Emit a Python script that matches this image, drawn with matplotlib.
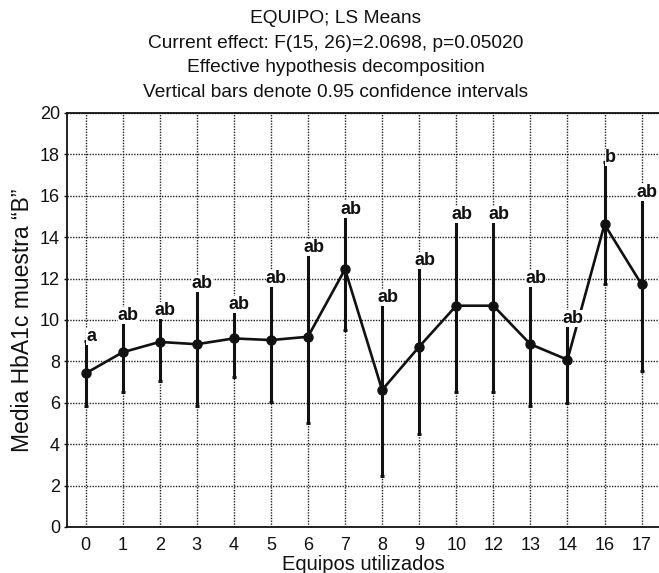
"""
EQUIPO; LS Means plot: HbA1c "B" means per equipment, with 95% CI bars
and group letters above each bar.
"""

import matplotlib
matplotlib.use("Agg")
import matplotlib.pyplot as plt

# ── Data ───────────────────────────────────────────────────────────────────
equipos = ["0", "1", "2", "3", "4", "5", "6", "7", "8", "9",
           "10", "12", "13", "14", "16", "17"]
medias = [7.42, 8.44, 8.94, 8.83, 9.11, 9.03, 9.19, 12.45,
          6.62, 8.71, 10.69, 10.69, 8.83, 8.08, 14.62, 11.72]
ci_low = [5.85, 6.54, 7.07, 5.85, 7.23, 6.05, 5.01, 9.52,
          2.48, 4.49, 6.51, 6.51, 5.85, 6.00, 11.72, 7.54]
ci_high = [9.00, 10.00, 10.25, 11.55, 10.56, 11.80, 13.30, 15.15,
           10.90, 12.66, 14.88, 14.90, 11.80, 9.85, 17.65, 15.96]
letras = ["a", "ab", "ab", "ab", "ab", "ab", "ab", "ab",
          "ab", "ab", "ab", "ab", "ab", "ab", "b", "ab"]

FONT = "Liberation Sans"
plt.rcParams["font.family"] = [FONT, "DejaVu Sans"]

fig = plt.figure(figsize=(6.59, 5.73), dpi=100)
ax = fig.add_axes([0.1017, 0.0803, 0.9, 0.7225])

x = list(range(len(equipos)))
err_lo = [m - lo for m, lo in zip(medias, ci_low)]
err_hi = [hi - m for m, hi in zip(medias, ci_high)]

# ── Confidence interval bars + mean line ──────────────────────────────────
ax.errorbar(x, medias, yerr=[err_lo, err_hi], fmt="none", ecolor="#111111",
            elinewidth=2.2, capsize=1.2, capthick=2.2, zorder=3)
ax.plot(x, medias, color="#111111", linewidth=1.9, marker="o",
        markersize=6.5, markerfacecolor="#111111", markeredgecolor="#111111",
        zorder=4)

# Group letters sit just above the upper end of each bar
for xi, hi, lab in zip(x, ci_high, letras):
    ax.annotate(lab, (xi, hi), xytext=(4, -3), textcoords="offset points",
                ha="center", va="bottom", fontsize=13, fontweight="bold",
                color="#111111", zorder=5,
                bbox=dict(boxstyle="square,pad=0.0", fc="white", ec="none"))

# ── Axes styling ──────────────────────────────────────────────────────────
ax.set_xlim(-0.5, len(equipos) - 0.5)
ax.set_ylim(0, 20)
ax.set_yticks(range(0, 21, 2))
ax.set_xticks(x)
ax.set_xticklabels(equipos)

ax.grid(True, color="#222222", linestyle=(0, (1, 1)), linewidth=1.0)
ax.set_axisbelow(True)
for s in ax.spines.values():
    s.set_linewidth(1.3)
    s.set_color("#111111")

ax.tick_params(axis="y", length=2, width=1, pad=3, labelsize=13,
               colors="#111111")
ax.tick_params(axis="x", length=0, pad=7, labelsize=13, colors="#111111")

ax.set_xlabel("Equipos utilizados", fontsize=14.5, color="#111111",
              labelpad=1)
ax.set_ylabel("Media HbA1c muestra \u201cB\u201d", fontsize=16.5,
              color="#111111", labelpad=4)

# Title block is centred on the figure, slightly right of centre
fig.text(336 / 659, 1 - 10 / 573,
         "EQUIPO; LS Means\n"
         "Current effect: F(15, 26)=2.0698, p=0.05020\n"
         "Effective hypothesis decomposition\n"
         "Vertical bars denote 0.95 confidence intervals",
         ha="center", va="top", fontsize=13.8, color="#111111",
         linespacing=1.58)

fig.savefig("out.png", dpi=100, facecolor="white")
plt.close(fig)
